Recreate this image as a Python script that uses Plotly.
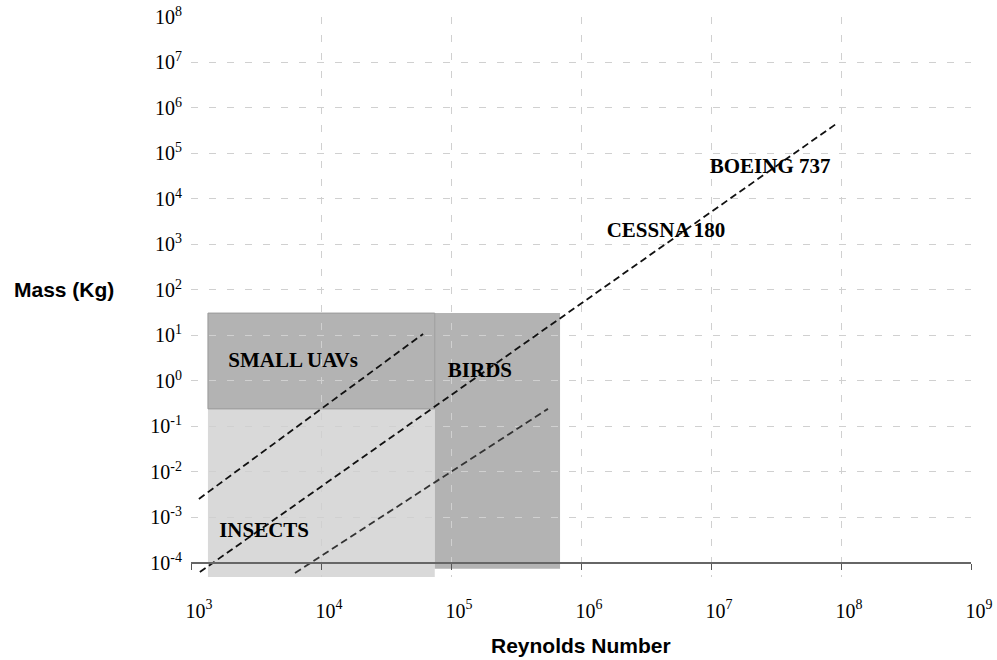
import numpy as np
import plotly.graph_objects as go

# Flight envelopes: Reynolds number vs. mass
region_names = ["INSECTS", "BIRDS", "SMALL UAVs"]
region_re_lo = [1.35e3, 7.5e4, 1.35e3]
region_re_hi = [7.5e4, 6.9e5, 7.5e4]
region_mass_lo = [4.9e-5, 7.4e-5, 0.243]
region_mass_hi = [0.243, 31.0, 31.0]

# Constant-scaling trend lines (mass ~ Re^2), two end points each
trend_re = [[1.15e3, 6.1e4], [1.17e3, 9.16e7], [6.31e3, 5.57e5]]
trend_mass = [[2.55e-3, 10.8], [6.3e-5, 4.45e5], [6.0e-5, 0.243]]

# Labelled examples
label_text = ["SMALL UAVs", "BIRDS", "INSECTS", "CESSNA 180", "BOEING 737"]

# Axis ticks (powers of ten)
x_exponents = [3, 4, 5, 6, 7, 8, 9]
y_exponents = [-4, -3, -2, -1, 0, 1, 2, 3, 4, 5, 6, 7, 8]

# Label anchor points (Re, mass)
label_re = [6.1e3, 1.67e5, 3.65e3, 4.5e6, 2.85e7]
label_mass = [2.62, 1.58, 4.8e-4, 1.88e3, 4.8e4]

region_fill = {"INSECTS": "#d9d9d9", "BIRDS": "#b3b3b3", "SMALL UAVs": "#b3b3b3"}
trend_colors = ["#111111", "#111111", "#333333"]

y_lo, y_hi = -4.31, 8.0

fig = go.Figure()

for name, x0, x1, y0, y1 in zip(region_names, region_re_lo, region_re_hi,
                                region_mass_lo, region_mass_hi):
    fig.add_shape(
        type="rect", xref="x", yref="y",
        x0=x0, x1=x1, y0=y0, y1=y1,
        fillcolor=region_fill[name],
        line=dict(color="#9a9a9a", width=1) if name == "SMALL UAVs" else dict(width=0),
        layer="below",
    )

for xs, ys, col in zip(trend_re, trend_mass, trend_colors):
    fig.add_trace(go.Scatter(
        x=xs, y=ys, mode="lines",
        line=dict(color=col, width=1.8, dash="7px,4px"),
        hoverinfo="skip", showlegend=False,
    ))

fig.add_trace(go.Scatter(
    x=label_re, y=label_mass, mode="text",
    text=[f"<b>{t}</b>" for t in label_text],
    textfont=dict(family="Liberation Serif", size=21, color="#000000"),
    textposition="middle center",
    hoverinfo="skip", showlegend=False,
))

tick_font = dict(family="Liberation Serif", size=20, color="#000000")

fig.update_layout(
    width=997, height=660,
    margin=dict(l=191, r=26, t=17, b=83),
    paper_bgcolor="white", plot_bgcolor="white",
    showlegend=False,
    xaxis=dict(
        type="log", range=[3, 9],
        tickvals=[10.0 ** e for e in x_exponents],
        ticktext=[f"10<sup>{e}</sup>" for e in x_exponents],
        tickfont=tick_font,
        anchor="free", position=(-4 - y_lo) / (y_hi - y_lo),
        showline=True, linecolor="#666666", linewidth=2,
        ticks="outside", ticklen=6, tickcolor="#555555", tickwidth=1,
        ticklabelstandoff=24, ticklabelshift=8, ticklabeloverflow="allow",
        showgrid=True, gridcolor="#d0d0d0", gridwidth=1, griddash="7px,11px",
        zeroline=False, automargin=False,
    ),
    yaxis=dict(
        type="log", range=[y_lo, y_hi],
        tickvals=[10.0 ** e for e in y_exponents],
        ticktext=[f"10<sup>{e}</sup>" for e in y_exponents],
        tickfont=tick_font,
        showline=False, ticks="", ticklabelstandoff=8,
        showgrid=True, gridcolor="#d0d0d0", gridwidth=1, griddash="7px,11px",
        zeroline=False, automargin=False,
    ),
    annotations=[
        dict(text="<b>Mass (Kg)</b>", xref="paper", yref="paper",
             x=-179 / 780, y=(2 - y_lo) / (y_hi - y_lo),
             xanchor="left", yanchor="middle", showarrow=False,
             font=dict(family="Liberation Sans", size=21, color="#000000")),
        dict(text="<b>Reynolds Number</b>", xref="paper", yref="paper",
             x=0.5, y=-68 / 560, xanchor="center", yanchor="middle", showarrow=False,
             font=dict(family="Liberation Sans", size=21, color="#000000")),
    ],
)

fig.write_html("out.html")
